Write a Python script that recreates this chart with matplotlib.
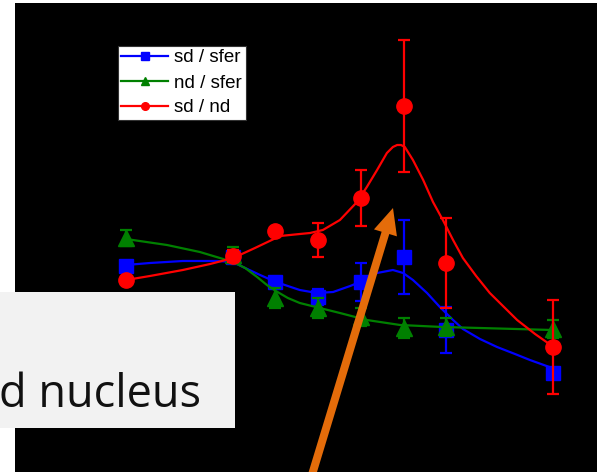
import matplotlib
matplotlib.use("Agg")
import matplotlib.pyplot as plt
from matplotlib.lines import Line2D
from matplotlib.patches import Rectangle, FancyArrow

# Measured ratios at each sample position
x_pts = [0, 2.5, 3.5, 4.5, 5.5, 6.5, 7.5, 10]

sd_sfer = [2.06, 2.15, 1.90, 1.75, 1.90, 2.15, 1.42, 0.99]
sd_sfer_err = [0.0, 0.0, 0.0, 0.08, 0.19, 0.37, 0.23, 0.0]

nd_sfer = [2.34, 2.17, 1.74, 1.64, 1.55, 1.44, 1.45, 1.43]
nd_sfer_err = [0.08, 0.08, 0.10, 0.10, 0.09, 0.10, 0.09, 0.09]

sd_nd = [1.92, 2.16, 2.41, 2.32, 2.74, 3.66, 2.09, 1.25]
sd_nd_err = [0.0, 0.06, 0.0, 0.17, 0.28, 0.66, 0.45, 0.47]

# Smoothed fit curves
sd_sfer_fit_x = [0, 0.56, 1.33, 2.13, 2.51, 2.74, 3.14, 3.51, 4.07, 4.47, 4.85, 5.25,
                 5.48, 5.88, 6.25, 6.49, 6.72, 7.05, 7.35, 7.66, 7.89, 8.29, 8.69,
                 9.11, 9.46, 9.98]
sd_sfer_fit_y = [2.07, 2.09, 2.11, 2.11, 2.10, 2.05, 1.97, 1.90, 1.82, 1.79, 1.80, 1.86,
                 1.90, 1.99, 2.02, 1.99, 1.92, 1.79, 1.65, 1.52, 1.43, 1.33, 1.25,
                 1.18, 1.12, 1.04]

nd_sfer_fit_x = [0, 0.96, 1.73, 2.51, 2.79, 3.07, 3.30, 3.51, 3.79, 4.07, 4.54, 5.01,
                 5.64, 6.42, 7.42, 8.29, 9.98]
nd_sfer_fit_y = [2.33, 2.27, 2.20, 2.10, 2.04, 1.95, 1.87, 1.81, 1.74, 1.69, 1.64, 1.59,
                 1.52, 1.47, 1.45, 1.44, 1.42]

sd_nd_fit_x = [0, 0.56, 1.33, 1.97, 2.51, 3.02, 3.61, 4.07, 4.31, 4.61, 5.01, 5.41,
               5.64, 5.88, 6.11, 6.25, 6.35, 6.44, 6.53, 6.72, 6.96, 7.19, 7.42,
               7.66, 7.89, 8.20, 8.52, 9.16, 9.58, 9.98]
sd_nd_fit_y = [1.92, 1.96, 2.02, 2.08, 2.14, 2.24, 2.36, 2.38, 2.39, 2.42, 2.52, 2.70,
               2.85, 3.02, 3.19, 3.25, 3.27, 3.27, 3.25, 3.12, 2.92, 2.70, 2.52,
               2.32, 2.14, 1.96, 1.79, 1.52, 1.38, 1.26]

labels = ["sd / sfer", "nd / sfer", "sd / nd"]
colors = ["#0000ff", "#008000", "#ff0000"]
markers = ["s", "^", "o"]

W, H = 597, 472
fig = plt.figure(figsize=(W / 100, H / 100), dpi=100)
fig.patch.set_facecolor("white")

# Overlay in pixel coordinates for the slide elements
over = fig.add_axes([0, 0, 1, 1], zorder=0)
over.set_xlim(0, W)
over.set_ylim(H, 0)
over.axis("off")
over.add_patch(Rectangle((15, 3), W - 15, H - 3, facecolor="black", edgecolor="none"))

# Data axes
ax = fig.add_axes([0, 0, 1, 1], zorder=1)
ax.patch.set_alpha(0)
ax.set_xlim(-126 / 42.7, (W - 126) / 42.7)
ax.set_ylim(0, H / 100)
ax.axis("off")

series = [
    (sd_sfer, sd_sfer_err, sd_sfer_fit_x, sd_sfer_fit_y),
    (nd_sfer, nd_sfer_err, nd_sfer_fit_x, nd_sfer_fit_y),
    (sd_nd, sd_nd_err, sd_nd_fit_x, sd_nd_fit_y),
]
msizes = [10.5, 12, 11]
for i, (y, e, fx, fy) in enumerate(series):
    c = colors[i]
    ax.plot(fx, fy, color=c, lw=1.6, zorder=2 + i,
            solid_joinstyle="round", solid_capstyle="round")
    ax.errorbar(x_pts, y, yerr=e, fmt=markers[i], color=c, ms=msizes[i],
                mec=c, mfc=c, elinewidth=1.6, capsize=4.6, capthick=1.6,
                zorder=2 + i)

handles = [Line2D([], [], color=colors[i], marker=markers[i], ms=5.5, lw=1.6)
           for i in range(3)]
leg = ax.legend(handles, labels, loc="upper left",
                bbox_to_anchor=(118 / W, 1 - 46 / H), borderaxespad=0,
                frameon=True, fancybox=False, edgecolor="#333333",
                facecolor="white", framealpha=1, handlelength=2.5,
                handletextpad=0.33, borderpad=0.18, labelspacing=0.42,
                prop={"family": "Liberation Sans", "size": 13.5})
leg.get_frame().set_linewidth(0.8)

# Caption box and arrow on top
top = fig.add_axes([0, 0, 1, 1], zorder=5)
top.patch.set_alpha(0)
top.set_xlim(0, W)
top.set_ylim(H, 0)
top.axis("off")
top.add_patch(Rectangle((0, 292), 235, 136, facecolor="#f2f2f2", edgecolor="none"))
top.text(-1, 407, "d nucleus", family="Open Sans", fontsize=32.5, color="#111111",
         ha="left", va="baseline")
top.add_patch(FancyArrow(311, 478, 82, -270, width=8, head_width=24,
                         head_length=26, length_includes_head=True,
                         facecolor="#e46c0a", edgecolor="none"))

fig.savefig("out.png", dpi=100, facecolor="white")
